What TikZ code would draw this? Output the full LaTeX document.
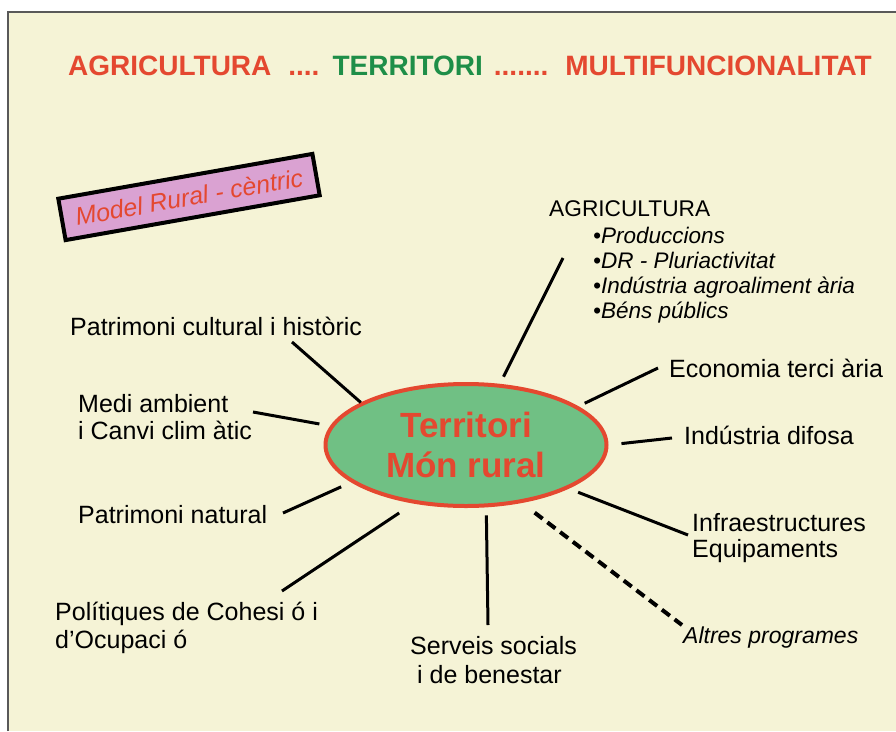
\documentclass[tikz,border=0pt]{standalone}
\usepackage{fontspec}
\setmainfont{Liberation Sans}
\usetikzlibrary{shapes.geometric}
\definecolor{crema}{RGB}{245,243,214}
\definecolor{vermell}{RGB}{228,72,48}
\definecolor{verd}{RGB}{30,142,72}
\definecolor{verdclar}{RGB}{112,192,132}
\definecolor{lila}{RGB}{218,162,210}

\begin{document}
\begin{tikzpicture}[x=1pt,y=-1pt,
  main_node/.style={ellipse,draw=vermell,line width=4pt,fill=verdclar,minimum width=281pt,minimum height=122pt,inner sep=0pt,text=vermell,align=center,font=\fontsize{35}{40}\selectfont\bfseries},
  label_node/.style={anchor=base west,inner sep=0pt,align=left,font=\fontsize{25}{28}\selectfont},
  model_node/.style={draw=black,line width=4pt,fill=lila,text=vermell,minimum width=258pt,minimum height=42pt,inner sep=0pt,font=\fontsize{25}{28}\selectfont\itshape}]

    \useasboundingbox (0,0) rectangle (896,731);
    \fill[crema] (8,12) rectangle (896,731);
    \draw[black!65,line width=1.5pt] (8,731) -- (8,12) -- (896,12);

    \node[anchor=base west,inner sep=0pt,font=\fontsize{28}{30}\selectfont\bfseries] (title) at (68,75)
      {\color{vermell}AGRICULTURA\hspace{17pt}....\hspace{13pt}\color{verd}TERRITORI\hspace{11pt}\color{vermell}.......\hspace{17pt}MULTIFUNCIONALITAT};

    \node[model_node,rotate=10] (model) at (189,197) {Model Rural - cèntric};

    \node[main_node] (terr) at (466,445) {Territori\\Món rural};

    % multi-line nodes: base = last line
    \node[label_node,font=\fontsize{22.7}{25}\selectfont] (agri) at (549,216) {AGRICULTURA};
    \node[label_node,font=\fontsize{22.5}{25}\selectfont\itshape] (agrilist) at (593,318)
      {•Produccions\\•DR - Pluriactivitat\\•Indústria agroaliment ària\\•Béns públics};
    \node[label_node] (econ) at (669,377) {Economia terci ària};
    \node[label_node] (ind) at (684,444) {Indústria difosa};
    \node[label_node,font=\fontsize{25}{26}\selectfont] (infra) at (692,557) {Infraestructures\\Equipaments};
    \node[label_node,font=\fontsize{23}{26}\selectfont\itshape] (altres) at (683,643) {Altres programes};
    \node[label_node,font=\fontsize{25}{29}\selectfont] (serv) at (410,683) {Serveis socials\\\hspace*{7pt}i de benestar};
    \node[label_node] (polit) at (55,648) {Polítiques de Cohesi ó i\\d’Ocupaci ó};
    \node[label_node] (nat) at (78,523) {Patrimoni  natural};
    \node[label_node,font=\fontsize{25}{27}\selectfont] (medi) at (78,439) {Medi ambient\\i Canvi clim àtic};
    \node[label_node] (cult) at (70,335) {Patrimoni cultural i històric};

    \coordinate (agri_end) at (563,258);
    \coordinate (econ_end) at (658,368);
    \coordinate (ind_end) at (672,438);
    \coordinate (infra_end) at (688,535);
    \coordinate (altres_end) at (682,625);
    \coordinate (serv_end) at (488,625);
    \coordinate (polit_end) at (282,591);
    \coordinate (nat_end) at (283,513);
    \coordinate (medi_end) at (253,412);
    \coordinate (cult_end) at (292,342);

    \begin{scope}[every path/.style={line width=3pt}]
    \draw[shorten <=8pt] (terr.61.8) -- (agri_end);
    \draw[shorten <=7pt] (terr.19.4) -- (econ_end);
    \draw[shorten <=13pt] (terr.-0.8) -- (ind_end);
    \draw[shorten <=10pt] (terr.-23.2) -- (infra_end);
    \draw[shorten <=8pt] (terr.-72.6) -- (serv_end);
    \draw[shorten <=17pt] (terr.-132.5) -- (polit_end);
    \draw[shorten <=11pt] (terr.198.7) -- (nat_end);
    \draw[shorten <=11pt] (terr.172.7) -- (medi_end);
    \draw (terr.158) -- (cult_end);
    \end{scope}
    \begin{scope}[every path/.style={line width=4pt,dash pattern=on 10pt off 6pt}]
       \draw[shorten <=16pt] (terr.-46.7) -- (altres_end);
    \end{scope}
\end{tikzpicture}
\end{document}
